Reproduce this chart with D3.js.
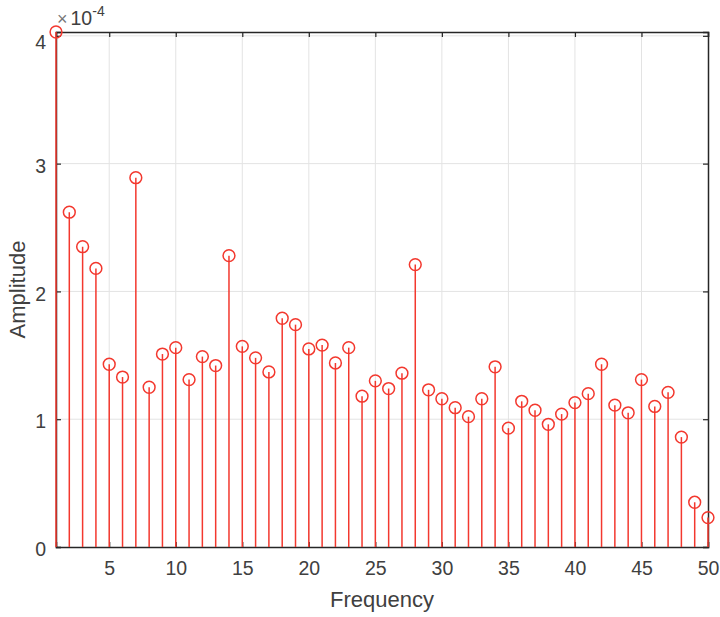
<!DOCTYPE html>
<html>
<head>
<meta charset="utf-8">
<script src="https://cdn.jsdelivr.net/npm/d3@7"></script>
<style>
  html, body { margin: 0; padding: 0; background: #fff; }
  svg { display: block; font-family: "Liberation Sans", Arial, Helvetica, sans-serif; }
</style>
</head>
<body>
<svg id="chart" width="720" height="617"></svg>
<script>
// Single-sided amplitude spectrum, bins 1..50
const frequencies = d3.range(1, 51);
const amplitudes = [
  4.03e-4, 2.62e-4, 2.35e-4, 2.18e-4, 1.43e-4, 1.33e-4, 2.89e-4, 1.25e-4, 1.51e-4, 1.56e-4,
  1.31e-4, 1.49e-4, 1.42e-4, 2.28e-4, 1.57e-4, 1.48e-4, 1.37e-4, 1.79e-4, 1.74e-4, 1.55e-4,
  1.58e-4, 1.44e-4, 1.56e-4, 1.18e-4, 1.30e-4, 1.24e-4, 1.36e-4, 2.21e-4, 1.23e-4, 1.16e-4,
  1.09e-4, 1.02e-4, 1.16e-4, 1.41e-4, 0.93e-4, 1.14e-4, 1.07e-4, 0.96e-4, 1.04e-4, 1.13e-4,
  1.20e-4, 1.43e-4, 1.11e-4, 1.05e-4, 1.31e-4, 1.10e-4, 1.21e-4, 0.86e-4, 0.35e-4, 0.23e-4
];
const xTicks = [5, 10, 15, 20, 25, 30, 35, 40, 45, 50];
const yTicks = [0, 1e-4, 2e-4, 3e-4, 4e-4];
const exponent = -4;

const svg = d3.select("#chart");
const margin = { left: 56, right: 12, top: 32, bottom: 70 };
const W = 720, H = 617;
const plotW = W - margin.left - margin.right;
const plotH = H - margin.top - margin.bottom;

const x = d3.scaleLinear().domain([1, 50]).range([0, plotW]);
const y = d3.scaleLinear().domain([0, d3.max(amplitudes)]).range([plotH, 0]);

const axisColor = "#262626";
const textColor = "#404040";
const stemColor = "#f3382e";

const g = svg.append("g").attr("transform", `translate(${margin.left},${margin.top})`);

// grid
g.append("g").selectAll("line.vg").data(xTicks.filter(t => t < 50)).join("line")
  .attr("x1", d => x(d)).attr("x2", d => x(d))
  .attr("y1", 0).attr("y2", plotH)
  .attr("stroke", "#e3e3e3").attr("stroke-width", 1);
g.append("g").selectAll("line.hg").data(yTicks.filter(t => t > 0)).join("line")
  .attr("x1", 0).attr("x2", plotW)
  .attr("y1", d => y(d)).attr("y2", d => y(d))
  .attr("stroke", "#e3e3e3").attr("stroke-width", 1);

// axes (ticks point inward, mirrored on top/right)
const fmtY = d => d3.format("d")(Math.round(d / Math.pow(10, exponent)));
const xAxis = d3.axisBottom(x).tickValues(xTicks).tickSize(-5).tickPadding(10);
const yAxis = d3.axisLeft(y).tickValues(yTicks).tickFormat(fmtY).tickSize(-5).tickPadding(10);

const gx = g.append("g").attr("transform", `translate(0,${plotH})`).call(xAxis);
const gy = g.append("g").call(yAxis);
const gxTop = g.append("g").call(d3.axisTop(x).tickValues(xTicks).tickSize(-5).tickFormat(""));
const gyRight = g.append("g").attr("transform", `translate(${plotW},0)`)
  .call(d3.axisRight(y).tickValues(yTicks).tickSize(-5).tickFormat(""));

[gx, gy, gxTop, gyRight].forEach(a => {
  a.select(".domain").attr("stroke", axisColor).attr("stroke-width", 1.5);
  a.selectAll(".tick line").attr("stroke", axisColor).attr("stroke-width", 1.2);
  a.selectAll(".tick text").attr("fill", textColor).style("font-size", "19.5px");
});
gx.selectAll(".tick text").attr("dy", "0.9em");
gy.selectAll(".tick text").attr("dy", "0.45em");
// top label sits a little lower, clear of the exponent
gy.selectAll(".tick text").filter(d => d === 4e-4).attr("dy", "0.65em");

// stems
g.append("g").selectAll("line.stem").data(frequencies).join("line")
  .attr("x1", d => x(d)).attr("x2", d => x(d))
  .attr("y1", y(0)).attr("y2", (d, i) => y(amplitudes[i]))
  .attr("stroke", stemColor).attr("stroke-width", 1.5);

// markers
g.append("g").selectAll("circle").data(frequencies).join("circle")
  .attr("cx", d => x(d)).attr("cy", (d, i) => y(amplitudes[i]))
  .attr("r", 5.9)
  .attr("fill", "none").attr("stroke", stemColor).attr("stroke-width", 1.5);

// exponent label
const ex = svg.append("text")
  .attr("x", margin.left + 1).attr("y", 25)
  .attr("fill", textColor).style("font-size", "19.5px");
ex.append("tspan").text("×").style("font-size", "18px").attr("fill", "#777");
ex.append("tspan").text("10").attr("dx", 3);
ex.append("tspan").text(String(exponent)).attr("dy", -9).style("font-size", "14px");

// axis titles
svg.append("text")
  .attr("x", margin.left + plotW / 2).attr("y", 607)
  .attr("text-anchor", "middle").attr("fill", textColor)
  .style("font-size", "22px").text("Frequency");

svg.append("text")
  .attr("transform", `translate(25,${margin.top + plotH / 2}) rotate(-90)`)
  .attr("text-anchor", "middle").attr("fill", textColor)
  .style("font-size", "22px").text("Amplitude");
</script>
</body>
</html>
